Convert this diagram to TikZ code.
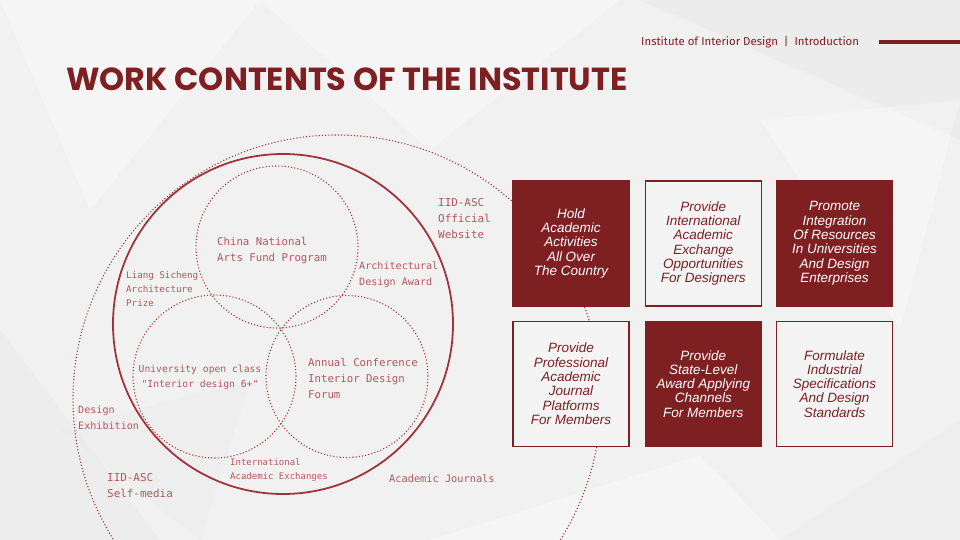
\documentclass[tikz,border=0pt]{standalone}
\usepackage{fontspec}
\setmainfont{Liberation Sans}
\newfontfamily\titlefont{Poppins}
\newfontfamily\headfont{Fira Sans}
\newfontfamily\ringfont{DejaVu Sans Mono}
\usetikzlibrary{positioning}
\definecolor{inst-red}{HTML}{7E1F22}
\definecolor{ring-red}{HTML}{A0343A}
\definecolor{label-red}{HTML}{B0585C}
\definecolor{page-gray}{HTML}{F1F1F1}
\definecolor{card-gray}{HTML}{F4F4F4}
\definecolor{facet-dark}{HTML}{E8E8E8}
\newcommand{\ringsize}[2]{\ringfont\fontsize{#1}{#2}\selectfont}

\begin{document}
\begin{tikzpicture}[x=1pt, y=-1pt,
      card/.style={draw=inst-red, line width=1.3pt, minimum width=116pt,
        minimum height=125pt, inner sep=0pt, align=center,
        font=\itshape\fontsize{13.5}{14.3}\selectfont},
      darkcard/.style={card, fill=inst-red, text=white},
      lightcard/.style={card, fill=card-gray, text=inst-red},
      ringlabel/.style={text=label-red, inner sep=0pt, align=left, anchor=west},
      dotring/.style={draw=ring-red, line width=1.1pt, dash pattern=on 1.1pt off 2.1pt}]
    % page and faint facets
    \useasboundingbox (0,0) rectangle (960,540);
    \clip (0,0) rectangle (960,540);
    \fill[page-gray] (0,0) rectangle (960,540);
    \fill[white, opacity=0.35] (0,0) -- (260,0) -- (90,210) -- cycle;
    \fill[white, opacity=0.3] (260,0) -- (620,0) -- (430,150) -- cycle;
    \fill[facet-dark, opacity=0.5] (640,0) -- (960,0) -- (960,140) -- cycle;
    \fill[facet-dark, opacity=0.4] (0,330) -- (160,540) -- (0,540) -- cycle;
    \fill[facet-dark, opacity=0.3] (60,430) -- (250,380) -- (200,540) -- cycle;
    \fill[white, opacity=0.35] (430,540) -- (700,455) -- (780,540) -- cycle;
    \fill[facet-dark, opacity=0.3] (780,540) -- (960,420) -- (960,540) -- cycle;
    \fill[white, opacity=0.3] (760,120) -- (960,100) -- (900,330) -- cycle;

    % header
    \node[font=\headfont\fontsize{11.4}{13}\selectfont, text=inst-red,
          anchor=west, inner sep=0pt] (crumb) at (641,42)
          {Institute of Interior Design~~\textbar~~Introduction};
    \coordinate (barend) at (960,42);
    \draw[inst-red, line width=4.5pt] ([xshift=20pt]crumb.east) -- (barend);
    \node[anchor=west, inner sep=0pt, text=inst-red,
          font=\titlefont\bfseries\fontsize{31.9}{36}\selectfont] (title) at (66,79)
          {WORK CONTENTS OF THE INSTITUTE};

    % rings
    \coordinate (outerc) at (337,399);
    \coordinate (corec) at (283,324);
    \coordinate (fundc) at (277,247);
    \coordinate (classc) at (214.5,376.5);
    \coordinate (forumc) at (347,376.5);
    \draw[dotring] (outerc) circle[radius=264pt];
    \draw[ring-red, line width=1.8pt] (corec) circle[radius=170pt];
    \draw[dotring] (fundc) circle[radius=81pt];
    \draw[dotring] (classc) circle[radius=81.5pt];
    \draw[dotring] (forumc) circle[radius=81pt];

    \node[ringlabel, font=\ringsize{10.7}{16}] (fund) at (217,251)
          {China National\\Arts Fund Program};
    \node[ringlabel, font=\ringsize{9.2}{14}] (liang) at (126,289)
          {Liang Sicheng\\Architecture\\Prize};
    \node[ringlabel, font=\ringsize{10.1}{16}] (archaward) at (359,275)
          {Architectural\\Design Award};
    \node[ringlabel, font=\ringsize{10.9}{16}] (website) at (438,219)
          {IID-ASC\\Official\\Website};
    \node[ringlabel, align=center, anchor=center, font=\ringsize{9.7}{15}] (openclass)
          at (200,377.5) {University open class\\"Interior design 6+"};
    \node[ringlabel, font=\ringsize{10.7}{16}] (forum) at (308,378)
          {Annual Conference\\Interior Design\\Forum};
    \node[ringlabel, font=\ringsize{10.1}{16}] (exhibit) at (78,418)
          {Design\\Exhibition};
    \node[ringlabel, font=\ringsize{9}{14}] (exchange) at (230,470)
          {International\\Academic Exchanges};
    \node[ringlabel, font=\ringsize{10.9}{16}] (selfmedia) at (107,486)
          {IID-ASC\\Self-media};
    \node[ringlabel, font=\ringsize{10.3}{16}] (journals) at (389,479)
          {Academic Journals};

    % cards
    \node[darkcard] (hold) at (571,243.5)
          {Hold\\Academic\\Activities\\All Over\\The Country};
    \node[lightcard, right=15pt of hold] (exchange-card)
          {Provide\\International\\Academic\\Exchange\\Opportunities\\For Designers};
    \node[darkcard, right=14pt of exchange-card] (promote)
          {Promote\\Integration\\Of Resources\\In Universities\\And Design\\Enterprises};
    \node[lightcard, below=14pt of hold] (journal-card)
          {Provide\\Professional\\Academic\\Journal\\Platforms\\For Members};
    \node[darkcard, below=14pt of exchange-card] (award-card)
          {Provide\\State-Level\\Award Applying\\Channels\\For Members};
    \node[lightcard, below=14pt of promote] (standards)
          {Formulate\\Industrial\\Specifications\\And Design\\Standards};
  \end{tikzpicture}
\end{document}
